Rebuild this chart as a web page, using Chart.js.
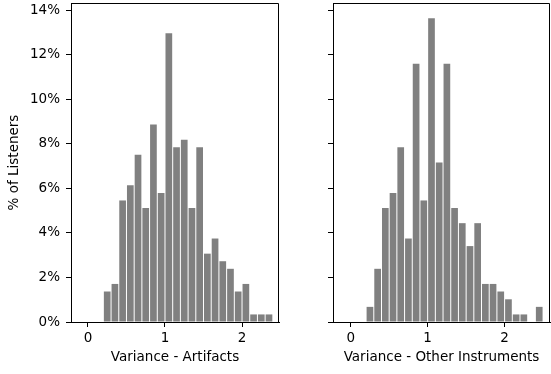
<!DOCTYPE html>
<html>
<head>
<meta charset="utf-8">
<script src="https://cdn.jsdelivr.net/npm/chart.js@4.4.0/dist/chart.umd.min.js"></script>
<style>
  html, body { margin: 0; padding: 0; background: #fff; }
  #wrap { position: relative; width: 551px; height: 374px; overflow: hidden; }
  #left { position: absolute; left: 0; top: 0; }
  #right { position: absolute; left: 285px; top: 0; }
</style>
</head>
<body>
<div id="wrap">
  <canvas id="left" width="290" height="374"></canvas>
  <canvas id="right" width="266" height="374"></canvas>
</div>
<script>
// Histogram bin centres (bin width 0.1) and % of listeners per bin
const artifactBins = [0.25, 0.35, 0.45, 0.55, 0.65, 0.75, 0.85, 0.95, 1.05, 1.15, 1.25,
                      1.35, 1.45, 1.55, 1.65, 1.75, 1.85, 1.95, 2.05, 2.15, 2.25, 2.35];
const artifactPct = [1.37, 1.71, 5.46, 6.14, 7.51, 5.12, 8.87, 5.80, 12.97, 7.85, 8.19,
                     5.12, 7.85, 3.07, 3.75, 2.73, 2.39, 1.37, 1.71, 0.34, 0.34, 0.34];

const otherBins = [0.25, 0.35, 0.45, 0.55, 0.65, 0.75, 0.85, 0.95, 1.05, 1.15, 1.25, 1.35,
                   1.45, 1.55, 1.65, 1.75, 1.85, 1.95, 2.05, 2.15, 2.25, 2.35, 2.45];
const otherPct = [0.68, 2.39, 5.12, 5.80, 7.85, 3.75, 11.60, 5.46, 13.65, 7.17, 11.60, 5.12,
                  4.44, 3.41, 4.44, 1.71, 1.71, 1.37, 1.02, 0.34, 0.34, null, 0.68];

const xTicks = [0, 1, 2];
const yTicks = [0, 2, 4, 6, 8, 10, 12, 14];
const Y_MAX = 14.33;

const FONT = { family: 'DejaVu Sans', size: 13.5 };
Chart.defaults.color = '#000';
Chart.defaults.font.family = FONT.family;

// top/right spines like matplotlib
const frame = {
  id: 'frame',
  afterDraw(chart) {
    const { ctx, chartArea: a } = chart;
    ctx.save();
    ctx.strokeStyle = '#000';
    ctx.lineWidth = 1;
    ctx.beginPath();
    const top = Math.round(a.top) + 0.5;
    const right = Math.round(a.right) - 0.5;
    ctx.moveTo(a.left, top);
    ctx.lineTo(right, top);
    ctx.lineTo(right, a.bottom);
    ctx.stroke();
    ctx.restore();
  }
};

function makeChart(id, bins, pct, xMin, xMax, opts) {
  const ctx = document.getElementById(id);
  return new Chart(ctx, {
    type: 'bar',
    data: {
      datasets: [{
        data: bins.map((x, i) => ({ x: x, y: pct[i] })),
        backgroundColor: '#808080',
        borderWidth: 0,
        barPercentage: 0.87,
        categoryPercentage: 1
      }]
    },
    options: {
      responsive: false,
      animation: false,
      layout: { padding: { top: 3, right: opts.padRight, bottom: 0, left: 0 } },
      plugins: { legend: { display: false }, tooltip: { enabled: false } },
      scales: {
        x: {
          type: 'linear',
          min: xMin,
          max: xMax,
          offset: false,
          afterBuildTicks: s => { s.ticks = xTicks.map(v => ({ value: v })); },
          grid: { display: true, offset: false, drawOnChartArea: false, drawTicks: true, tickLength: 5, tickColor: '#000' },
          border: { display: true, color: '#000', width: 1 },
          ticks: { font: FONT, padding: 3, maxRotation: 0, autoSkip: false, callback: v => String(v) },
          title: { display: true, text: opts.xTitle, font: FONT, padding: { top: 0, bottom: 8 } },
          afterFit: s => { s.height = 52; s.paddingLeft = 0; s.paddingRight = 0; }
        },
        y: {
          min: 0,
          max: Y_MAX,
          afterBuildTicks: s => { s.ticks = yTicks.map(v => ({ value: v })); },
          grid: { display: true, offset: false, drawOnChartArea: false, drawTicks: true, tickLength: 5, tickColor: '#000' },
          border: { display: true, color: '#000', width: 1 },
          ticks: { display: opts.yLabels, font: FONT, padding: 6, callback: v => v + '%' },
          title: { display: opts.yLabels, text: '% of Listeners', font: FONT, padding: { top: 6, bottom: 0 } },
          afterFit: s => { s.width = opts.yWidth; s.paddingTop = 0; s.paddingBottom = 0; }
        }
      }
    },
    plugins: [frame]
  });
}

makeChart('left', artifactBins, artifactPct, -0.22, 2.48,
  { xTitle: 'Variance - Artifacts', yLabels: true, yWidth: 71, padRight: 11 });
makeChart('right', otherBins, otherPct, -0.23, 2.59,
  { xTitle: 'Variance - Other Instruments', yLabels: false, yWidth: 48, padRight: 1 });
</script>
</body>
</html>
